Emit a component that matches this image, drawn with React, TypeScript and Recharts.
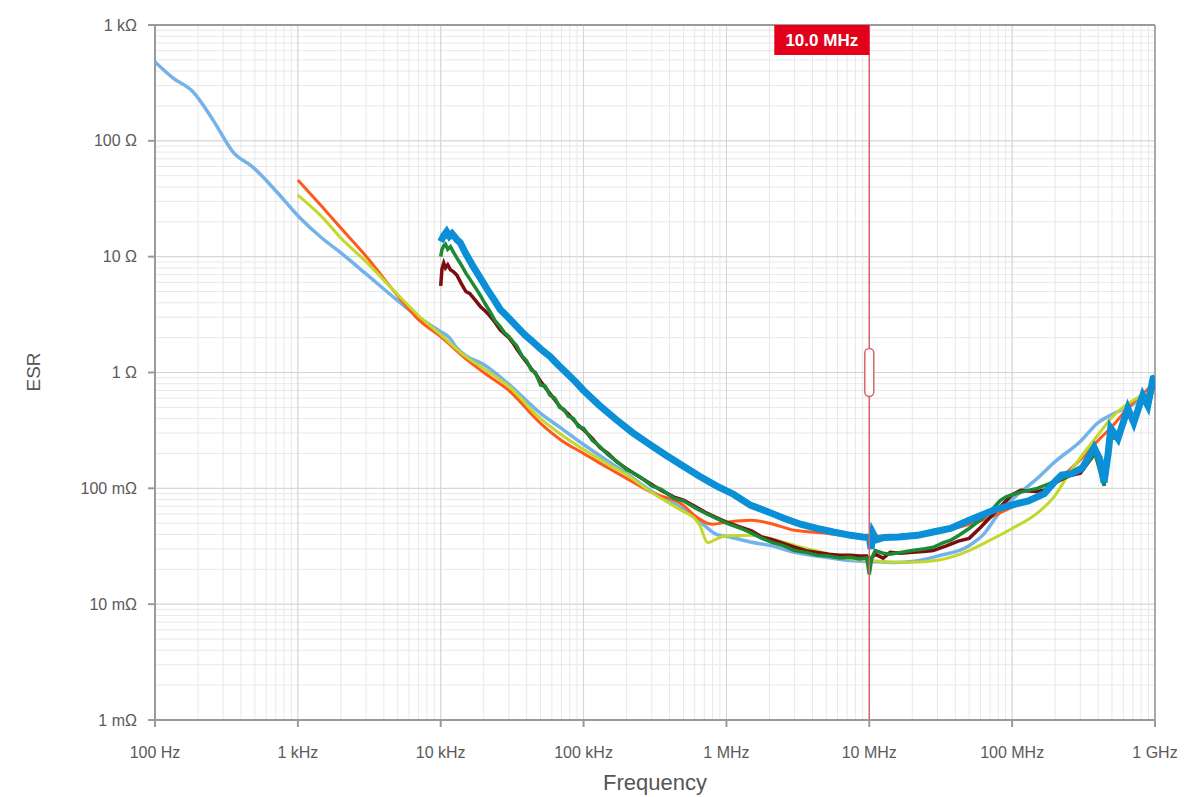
import React from 'react';
import { LineChart, Line, XAxis, YAxis, CartesianGrid, ReferenceLine } from 'recharts';

// decade ticks and their labels
const xMajor = [1e2, 1e3, 1e4, 1e5, 1e6, 1e7, 1e8, 1e9];
const xMajorLabels = ['100 Hz', '1 kHz', '10 kHz', '100 kHz', '1 MHz', '10 MHz', '100 MHz', '1 GHz'];
const yMajor = [1e-3, 1e-2, 1e-1, 1, 10, 100, 1000];
const yMajorLabels = ['1 m\u03a9', '10 m\u03a9', '100 m\u03a9', '1 \u03a9', '10 \u03a9', '100 \u03a9', '1 k\u03a9'];
const minorSteps = [2, 3, 4, 5, 6, 7, 8, 9];

const markerFreq = 1e7;
const markerLabel = '10.0 MHz';

// [frequency Hz, ESR ohm]
const lightBlue: [number, number][] = [
  [100, 480], [134, 348], [185, 264], [255, 151], [352, 80], [486, 59], [716, 36], [1020, 22],
  [1500, 14.2], [2000, 10.8], [3000, 7.1], [5000, 4.17], [7000, 3.0], [10000, 2.25], [11500, 2.0],
  [13000, 1.62], [15000, 1.4], [20000, 1.17], [30000, 0.79], [50000, 0.443], [70000, 0.329],
  [100000, 0.239], [150000, 0.17], [200000, 0.134], [300000, 0.094], [500000, 0.066], [700000, 0.048],
  [850000, 0.04], [1e6, 0.0386], [1.5e6, 0.0342], [2e6, 0.0322], [3e6, 0.028], [5e6, 0.0254],
  [7e6, 0.0239], [1e7, 0.0234], [1.5e7, 0.0229], [2e7, 0.0234], [3e7, 0.026], [5e7, 0.032],
  [6.3e7, 0.04], [8e7, 0.06], [1e8, 0.08], [1.5e8, 0.122], [2e8, 0.17], [3e8, 0.254], [4e8, 0.37],
  [5e8, 0.434], [7e8, 0.53], [9e8, 0.672], [1e9, 0.82],
];

const orange: [number, number][] = [
  [1000, 46], [1500, 26.4], [2000, 17.7], [3000, 10.1], [5000, 4.6], [7000, 2.86], [10000, 2.04],
  [15000, 1.31], [20000, 1.0], [30000, 0.7], [50000, 0.363], [70000, 0.259], [100000, 0.2],
  [150000, 0.149], [200000, 0.122], [300000, 0.092], [500000, 0.0713], [600000, 0.058],
  [800000, 0.049], [1e6, 0.051], [1.5e6, 0.053], [2e6, 0.05], [3e6, 0.0434], [5e6, 0.041],
  [7e6, 0.039], [1e7, 0.0385], [1.5e7, 0.039], [2e7, 0.039], [3e7, 0.0417], [5e7, 0.049],
  [7e7, 0.056], [1e8, 0.069], [1.5e8, 0.0837], [2e8, 0.112], [3e8, 0.177], [4e8, 0.259],
  [5e8, 0.342], [7e8, 0.55], [9e8, 0.727], [1e9, 0.853],
];

const yellow: [number, number][] = [
  [1000, 34], [1500, 21.6], [2000, 14.5], [3000, 9.05], [5000, 4.7], [7000, 3.1], [10000, 2.12],
  [15000, 1.37], [20000, 1.08], [30000, 0.757], [50000, 0.4], [70000, 0.29], [100000, 0.216],
  [150000, 0.16], [200000, 0.131], [300000, 0.092], [500000, 0.063], [600000, 0.055],
  [650000, 0.048], [740000, 0.034], [870000, 0.037], [1e6, 0.039], [1.5e6, 0.0393], [2e6, 0.037],
  [3e6, 0.0322], [5e6, 0.0275], [7e6, 0.0249], [1e7, 0.0239], [1.5e7, 0.023], [2e7, 0.023],
  [3e7, 0.0239], [5e7, 0.029], [7e7, 0.0356], [1e8, 0.045], [1.5e8, 0.061], [2e8, 0.087],
  [2.5e8, 0.134], [3.4e8, 0.225], [4e8, 0.29], [5e8, 0.41], [7e8, 0.573], [8.8e8, 0.66],
];

const darkRed: [number, number][] = [
  [10000, 5.6], [10200, 7.8], [10500, 8.8], [10800, 8.0], [11200, 8.5], [11700, 7.7], [12300, 7.4],
  [13000, 6.9], [14000, 5.8], [15000, 5.0], [16000, 4.8], [17500, 4.2], [19000, 3.7], [20500, 3.4],
  [22000, 3.1], [24000, 2.7], [26000, 2.35], [28000, 2.15], [30000, 2.0], [32000, 1.8], [34000, 1.6],
  [37000, 1.38], [40000, 1.22], [43000, 1.08], [46000, 0.98], [50000, 0.84], [54000, 0.74],
  [58000, 0.66], [63000, 0.58], [68000, 0.51], [73000, 0.47], [78000, 0.44], [85000, 0.39],
  [92000, 0.35], [100000, 0.32], [115000, 0.27], [130000, 0.225], [148000, 0.2], [170000, 0.17],
  [200000, 0.148], [250000, 0.124], [300000, 0.108], [350000, 0.096], [430000, 0.084],
  [500000, 0.079], [600000, 0.07], [730000, 0.061], [850000, 0.056], [1e6, 0.051], [1.27e6, 0.046],
  [1.5e6, 0.043], [1.77e6, 0.038], [2.1e6, 0.036], [2.5e6, 0.0335], [3e6, 0.031], [3.6e6, 0.029],
  [4.3e6, 0.028], [5.2e6, 0.027], [6.2e6, 0.0265], [7.4e6, 0.0264], [8.5e6, 0.026], [9.6e6, 0.026],
  [1e7, 0.024], [1.1e7, 0.027], [1.25e7, 0.025], [1.4e7, 0.028], [1.65e7, 0.0275], [2e7, 0.028],
  [2.4e7, 0.0285], [2.8e7, 0.029], [3.5e7, 0.032], [4.2e7, 0.035], [5e7, 0.037], [6e7, 0.046],
  [7e7, 0.056], [8e7, 0.067], [8.7e7, 0.074], [1e8, 0.088], [1.15e8, 0.096], [1.3e8, 0.095],
  [1.5e8, 0.094], [1.7e8, 0.097], [2e8, 0.112], [2.5e8, 0.128], [3e8, 0.135], [3.8e8, 0.2],
  [4.4e8, 0.14], [5e8, 0.3], [5.6e8, 0.28], [6.5e8, 0.46], [7.2e8, 0.38], [8.2e8, 0.6],
  [9e8, 0.52], [1e9, 0.85],
];

const green: [number, number][] = [
  [10000, 10.0], [10200, 11.5], [10500, 12.4], [10800, 12.8], [11200, 11.6], [11700, 12.2],
  [12300, 10.9], [13000, 9.7], [14000, 8.4], [15000, 7.2], [16000, 6.4], [17500, 5.4], [19000, 4.6],
  [20500, 3.9], [22000, 3.4], [24000, 2.8], [26000, 2.5], [28000, 2.2], [30000, 2.05], [32000, 1.85],
  [34000, 1.7], [37000, 1.4], [40000, 1.26], [43000, 1.05], [46000, 1.0], [50000, 0.78],
  [54000, 0.76], [58000, 0.64], [63000, 0.6], [68000, 0.5], [73000, 0.48], [78000, 0.42],
  [85000, 0.4], [92000, 0.34], [100000, 0.33], [115000, 0.26], [130000, 0.23], [148000, 0.195],
  [170000, 0.172], [200000, 0.145], [250000, 0.125], [300000, 0.105], [350000, 0.098],
  [430000, 0.082], [500000, 0.078], [600000, 0.068], [730000, 0.06], [850000, 0.055], [1e6, 0.05],
  [1.27e6, 0.045], [1.5e6, 0.041], [1.77e6, 0.037], [2.1e6, 0.034], [2.5e6, 0.032], [3e6, 0.029],
  [3.6e6, 0.028], [4.3e6, 0.0265], [5.2e6, 0.026], [6.2e6, 0.025], [7.4e6, 0.0254], [8.5e6, 0.0245],
  [9.6e6, 0.025], [1e7, 0.018], [1.04e7, 0.025], [1.1e7, 0.029], [1.25e7, 0.0275], [1.4e7, 0.027],
  [1.65e7, 0.028], [2e7, 0.029], [2.4e7, 0.03], [2.8e7, 0.031], [3.3e7, 0.034], [3.7e7, 0.0356],
  [4.2e7, 0.039], [5e7, 0.045], [6.3e7, 0.056], [7.2e7, 0.065], [8.2e7, 0.078], [9e7, 0.084],
  [1e8, 0.088], [1.15e8, 0.093], [1.3e8, 0.096], [1.5e8, 0.1], [2e8, 0.115], [2.5e8, 0.128],
  [3e8, 0.14], [3.8e8, 0.2], [4.4e8, 0.105], [4.7e8, 0.25], [5.6e8, 0.3], [6.5e8, 0.47],
  [7.2e8, 0.4], [8.2e8, 0.62], [9e8, 0.55], [1e9, 0.85],
];

const blue: [number, number][] = [
  [10000, 13.5], [10500, 15.2], [11000, 16.4], [11500, 15.0], [12000, 15.8], [13000, 14.0],
  [13700, 13.2], [15000, 10.6], [16900, 8.2], [19000, 6.5], [21000, 5.3], [23500, 4.3],
  [26100, 3.5], [30000, 2.95], [34000, 2.5], [39000, 2.1], [44200, 1.84], [50000, 1.6],
  [58300, 1.37], [67000, 1.15], [76700, 0.98], [88000, 0.83], [100000, 0.7], [129000, 0.52],
  [170000, 0.39], [220000, 0.303], [290000, 0.24], [380000, 0.192], [500000, 0.155],
  [648000, 0.127], [850000, 0.105], [1.12e6, 0.089], [1.48e6, 0.0713], [2e6, 0.062],
  [2.52e6, 0.0551], [3.3e6, 0.049], [4.3e6, 0.0451], [5.6e6, 0.042], [7.4e6, 0.0393],
  [9e6, 0.038], [1e7, 0.0377], [1.03e7, 0.03], [1.06e7, 0.041], [1.12e7, 0.036], [1.27e7, 0.0377],
  [1.6e7, 0.038], [2.18e7, 0.0393], [2.8e7, 0.042], [3.7e7, 0.0451], [5e7, 0.053], [6.4e7, 0.06],
  [7.7e7, 0.066], [1e8, 0.072], [1.3e8, 0.078], [1.68e8, 0.09], [2e8, 0.115], [2.22e8, 0.13],
  [2.6e8, 0.134], [3.1e8, 0.15], [3.75e8, 0.225], [4.1e8, 0.18], [4.4e8, 0.112], [4.7e8, 0.2],
  [4.9e8, 0.329], [5.5e8, 0.269], [6.45e8, 0.489], [7.1e8, 0.37], [8.2e8, 0.633], [8.9e8, 0.519],
  [9.7e8, 0.888], [1e9, 0.9],
];

const toRows = (s: [number, number][]) => s.map(([f, r]) => ({ f, r }));

const withMinors = (majors: number[]) =>
  majors.flatMap((d, i) => (i < majors.length - 1 ? [d, ...minorSteps.map((m) => d * m)] : [d]));

const xTicks = withMinors(xMajor);
const yTicks = withMinors(yMajor);

const findMajor = (list: number[], v: number) =>
  list.findIndex((m) => Math.abs(Math.log10(m) - Math.log10(v)) < 1e-6);

const FONT = '"Liberation Sans", Arial, sans-serif';
const AXIS = '#9a9a9a';

const XTick = (props: any) => {
  const { x, y, payload } = props;
  const idx = findMajor(xMajor, payload.value);
  if (idx < 0) return <g />;
  return (
    <g>
      <line x1={x} x2={x} y1={y - 7} y2={y} stroke={AXIS} strokeWidth={2} />
      <text x={x} y={y + 31} textAnchor="middle" fontSize={16} fill="#5a5a5a" fontFamily={FONT}>
        {xMajorLabels[idx]}
      </text>
    </g>
  );
};

const YTick = (props: any) => {
  const { x, y, payload } = props;
  const idx = findMajor(yMajor, payload.value);
  if (idx < 0) return <g />;
  return (
    <g>
      <line x1={x} x2={x + 7} y1={y} y2={y} stroke={AXIS} strokeWidth={2} />
      <text x={x - 11} y={y} dy="0.35em" textAnchor="end" fontSize={16} fill="#5a5a5a" fontFamily={FONT}>
        {yMajorLabels[idx]}
      </text>
    </g>
  );
};

const MarkerLabel = (props: any) => {
  const vb = props.viewBox || {};
  const x = vb.x;
  const top = vb.y;
  const h = vb.height;
  return (
    <g>
      <rect x={x - 95} y={top} width={95} height={30} fill="#e2001a" />
      <text x={x - 47.5} y={top + 15} dy="0.35em" textAnchor="middle" fontSize={17} fontWeight="bold" fill="#fff" fontFamily={FONT}>
        {markerLabel}
      </text>
      <rect x={x - 4.5} y={top + h / 2 - 24} width={9} height={48} rx={4.5} fill="#fff" stroke="#d9646e" strokeWidth={1.5} />
    </g>
  );
};

export default function App() {
  return (
    <div style={{ position: 'absolute', left: 0, top: 0, width: 1184, height: 797, background: '#fff' }}>
      <LineChart width={1184} height={797} margin={{ top: 25, right: 29, left: 0, bottom: 0 }}>
        <CartesianGrid stroke="#e8e8e8" strokeWidth={1} />
        <XAxis
          type="number"
          dataKey="f"
          scale="log"
          domain={[1e2, 1e9]}
          allowDataOverflow
          ticks={xTicks}
          interval={0}
          height={77}
          tickSize={7}
          tickMargin={0}
          tickLine={false}
          tick={<XTick />}
          axisLine={{ stroke: AXIS, strokeWidth: 2 }}
          label={() => (
            <text x={655} y={782} dy="0.35em" textAnchor="middle" fontSize={22} fill="#555" fontFamily={FONT}>
              Frequency
            </text>
          )}
        />
        <YAxis
          type="number"
          scale="log"
          domain={[1e-3, 1e3]}
          allowDataOverflow
          ticks={yTicks}
          interval={0}
          width={155}
          tickSize={7}
          tickMargin={0}
          tickLine={false}
          tick={<YTick />}
          axisLine={{ stroke: AXIS, strokeWidth: 2 }}
          label={() => (
            <text x={33} y={372} dy="0.35em" textAnchor="middle" fontSize={19} fill="#555" fontFamily={FONT} transform="rotate(-90 33 372)">
              ESR
            </text>
          )}
        />
        {xMajor.slice(1, -1).map((v) => (
          <ReferenceLine key={'vx' + v} x={v} stroke="#d4d4d4" strokeWidth={1} />
        ))}
        {yMajor.slice(1, -1).map((v) => (
          <ReferenceLine key={'hy' + v} y={v} stroke="#d4d4d4" strokeWidth={1} />
        ))}
        <ReferenceLine y={1e3} stroke={AXIS} strokeWidth={2} />
        <ReferenceLine x={1e9} stroke="#aaaaaa" strokeWidth={2} />

        <Line data={toRows(lightBlue)} dataKey="r" type="monotone" stroke="#74b3ea" strokeWidth={3.5} dot={false} isAnimationActive={false} />
        <Line data={toRows(orange)} dataKey="r" type="monotone" stroke="#ff5a1c" strokeWidth={3} dot={false} isAnimationActive={false} />
        <Line data={toRows(yellow)} dataKey="r" type="monotone" stroke="#c4d82a" strokeWidth={3} dot={false} isAnimationActive={false} />
        <Line data={toRows(darkRed)} dataKey="r" type="linear" stroke="#7a0e0e" strokeWidth={3.5} dot={false} isAnimationActive={false} />
        <Line data={toRows(green)} dataKey="r" type="linear" stroke="#1c8a34" strokeWidth={3.5} dot={false} isAnimationActive={false} />
        <Line data={toRows(blue)} dataKey="r" type="linear" stroke="#0b8fd6" strokeWidth={7} dot={false} isAnimationActive={false} />

        <ReferenceLine x={markerFreq} stroke="#d9646e" strokeWidth={1.5} label={<MarkerLabel />} />
      </LineChart>
    </div>
  );
}
